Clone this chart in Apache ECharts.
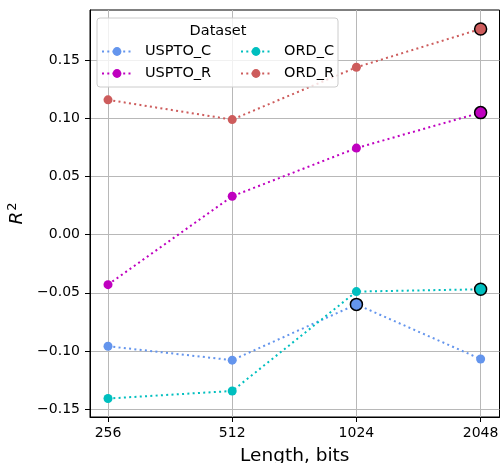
<!DOCTYPE html>
<html>
<head>
<meta charset="utf-8">
<script src="https://cdn.jsdelivr.net/npm/echarts@6/dist/echarts.min.js"></script>
<style>
  html, body { margin: 0; padding: 0; background: #fff; }
  #chart { width: 500px; height: 463px; }
</style>
</head>
<body>
<div id="chart"></div>
<script>
// Fingerprint length in bits (plotted on a log2 scale)
const lengths = [256, 512, 1024, 2048];

// R^2 per dataset
const usptoC = [-0.096, -0.108, -0.060, -0.107];
const usptoR = [-0.043, 0.033, 0.0745, 0.105];
const ordC   = [-0.141, -0.1345, -0.049, -0.047];
const ordR   = [0.116, 0.099, 0.144, 0.177];

// index of the best length for each dataset (drawn with an outlined marker)
const bestUsptoC = 2;
const bestUsptoR = 3;
const bestOrdC = 3;
const bestOrdR = 3;

const yTickValues = [-0.15, -0.10, -0.05, 0.00, 0.05, 0.10, 0.15];
const xTickValues = lengths.map(v => Math.log2(v));

const FONT = 'DejaVu Sans';

function makeSeries(name, values, best, color) {
  return {
    name: name,
    type: 'line',
    symbol: 'circle',
    symbolSize: 9,
    color: color,
    lineStyle: { width: 2, type: [2, 3.3], color: color },
    itemStyle: { color: color },
    emphasis: { disabled: true },
    data: values.map((v, i) => {
      const item = { value: [Math.log2(lengths[i]), v] };
      if (i === best) {
        item.symbolSize = 12;
        item.itemStyle = { color: color, borderColor: '#000', borderWidth: 1.5 };
      }
      return item;
    })
  };
}

const chart = echarts.init(document.getElementById('chart'), null, { renderer: 'canvas' });

const legendCommon = {
  orient: 'vertical',
  padding: 0,
  itemWidth: 30,
  itemHeight: 11,
  itemGap: 7,
  z: 6,
  selectedMode: false,
  textStyle: { fontFamily: FONT, fontSize: 14.5, color: '#000', padding: [0, 0, 0, 8] }
};

chart.setOption({
  animation: false,
  textStyle: { fontFamily: FONT },
  grid: {
    left: 90, right: 0.5, top: 10, bottom: 46,
    outerBoundsMode: 'none',
    containLabel: false,
    show: true, borderColor: '#000', borderWidth: 1, backgroundColor: 'transparent'
  },
  xAxis: {
    type: 'value',
    min: 7.855,
    max: 11.152,
    name: 'Length, bits',
    nameLocation: 'middle',
    nameGap: 30,
    nameTextStyle: { fontFamily: FONT, fontSize: 18.5, color: '#000' },
    axisLine: { show: true, onZero: false, lineStyle: { color: '#000', width: 1 } },
    axisTick: { show: true, length: 5, customValues: xTickValues, lineStyle: { color: '#000' } },
    axisLabel: {
      customValues: xTickValues,
      margin: 9,
      fontFamily: FONT, fontSize: 14, color: '#000',
      formatter: v => String(Math.round(Math.pow(2, v)))
    },
    splitLine: { show: true, lineStyle: { color: '#b8b8b8', width: 1 } }
  },
  yAxis: {
    type: 'value',
    min: -0.1569,
    max: 0.1933,
    name: '{i|R}{s|2}',
    nameLocation: 'middle',
    nameGap: 61,
    nameRotate: 90,
    nameTextStyle: {
      fontFamily: FONT, color: '#000',
      rich: {
        i: { fontFamily: FONT, fontSize: 18.5, fontStyle: 'italic', color: '#000' },
        s: { fontFamily: FONT, fontSize: 13, color: '#000', verticalAlign: 'top', padding: [0, 0, 8, 1] }
      }
    },
    axisLine: { show: true, onZero: false, lineStyle: { color: '#000', width: 1 } },
    axisTick: { show: true, length: 5, customValues: yTickValues, lineStyle: { color: '#000' } },
    axisLabel: {
      customValues: yTickValues,
      margin: 10,
      fontFamily: FONT, fontSize: 14, color: '#000',
      formatter: v => v.toFixed(2).replace('-', '\u2212').replace('\u22120.00', '0.00')
    },
    splitLine: { show: true, lineStyle: { color: '#b8b8b8', width: 1 } }
  },
  graphic: [
    {
      type: 'rect',
      z: 5,
      shape: { x: 97, y: 18, width: 241, height: 69, r: 3 },
      style: { fill: 'rgba(255,255,255,0.8)', stroke: '#cccccc', lineWidth: 1 }
    },
    {
      type: 'text',
      z: 6,
      x: 218, y: 31,
      style: {
        text: 'Dataset', fontFamily: FONT, fontSize: 14.5, fill: '#000',
        align: 'center', verticalAlign: 'middle'
      }
    }
  ],
  legend: [
    Object.assign({}, legendCommon, { left: 101, top: 44, data: ['USPTO_C', 'USPTO_R'] }),
    Object.assign({}, legendCommon, { left: 240, top: 44, data: ['ORD_C', 'ORD_R'] })
  ],
  series: [
    makeSeries('USPTO_C', usptoC, bestUsptoC, '#6495ED'),
    makeSeries('USPTO_R', usptoR, bestUsptoR, '#BF00BF'),
    makeSeries('ORD_C', ordC, bestOrdC, '#00BFBF'),
    makeSeries('ORD_R', ordR, bestOrdR, '#CD5C5C')
  ]
});
</script>
</body>
</html>
